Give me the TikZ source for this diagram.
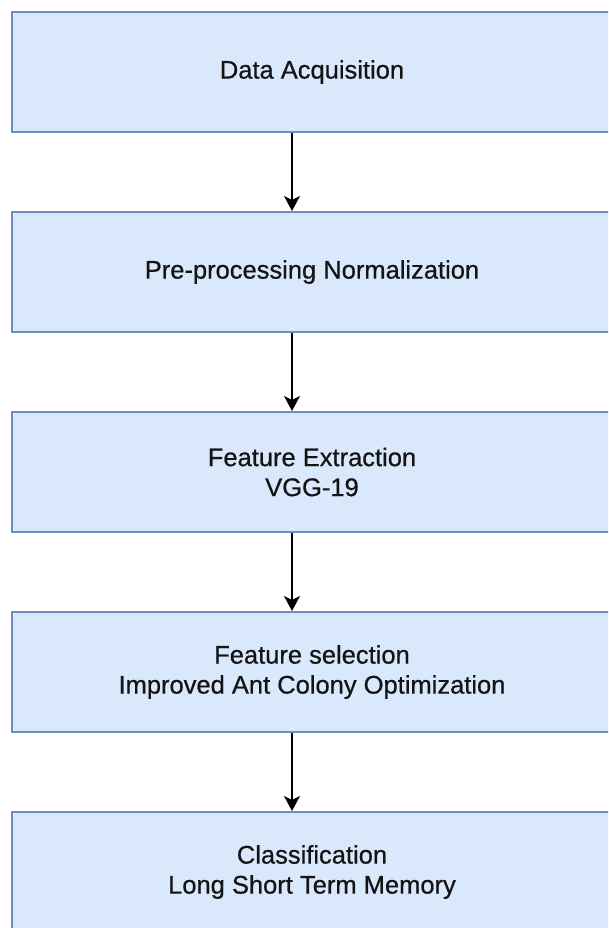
\documentclass[tikz,border=0pt]{standalone}
\usepackage{fontspec}
\setmainfont{Liberation Sans}
\newfontfamily\labelfont[FakeBold=0.6]{Liberation Sans}
\usetikzlibrary{arrows.meta}
\definecolor{boxfill}{HTML}{DAE8FC}
\definecolor{boxline}{HTML}{6C8EBF}
\begin{document}
\begin{tikzpicture}[x=1pt,y=-1pt,
  stage/.style={draw=boxline, fill=boxfill, line width=2pt,
    minimum width=600pt, minimum height=120pt, inner sep=0pt,
    align=center, text=black!92, font=\labelfont\fontsize{25.5}{30}\selectfont},
  flow/.style={draw=black, line width=1.8pt,
    -{Stealth[length=15pt,width=16pt,inset=4pt]}}]
\useasboundingbox (0,0) rectangle (608,928);
\clip (0,0) rectangle (608,928);
\fill[white] (0,0) rectangle (608,928);

\node[stage] (acq)  at (312,72)  {Data Acquisition};
\node[stage] (pre)  at (312,272) {Pre-processing Normalization};
\node[stage] (feat) at (312,472) {Feature Extraction\\VGG-19};
\node[stage] (sel)  at (312,672) {Feature selection\\Improved Ant Colony Optimization};
\node[stage] (cls)  at (312,872) {Classification\\Long Short Term Memory};

\draw[flow] ([xshift=-20pt]acq.south)  -- ([xshift=-20pt]pre.north);
\draw[flow] ([xshift=-20pt]pre.south)  -- ([xshift=-20pt]feat.north);
\draw[flow] ([xshift=-20pt]feat.south) -- ([xshift=-20pt]sel.north);
\draw[flow] ([xshift=-20pt]sel.south)  -- ([xshift=-20pt]cls.north);
\end{tikzpicture}
\end{document}
